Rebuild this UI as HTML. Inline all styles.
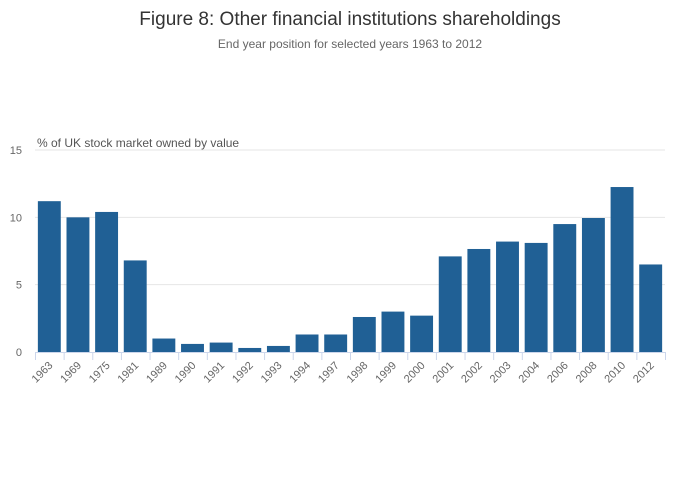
<!DOCTYPE html>
<html><head><meta charset="utf-8"><style>
body{margin:0;background:#fff;font-family:"Liberation Sans",sans-serif;}
svg{display:block}
</style></head><body>
<svg id="chart" width="700" height="502">
<text x="350" y="25" text-anchor="middle" font-size="19" fill="#333">Figure 8: Other financial institutions shareholdings</text>
<text x="350" y="48" text-anchor="middle" font-size="12" fill="#666">End year position for selected years 1963 to 2012</text>
<text x="37" y="147" font-size="12" fill="#555">% of UK stock market owned by value</text>
<g id="grid"></g><g id="bars"></g><g id="xticks"></g>
</svg>
<script>
const categories=["1963","1969","1975","1981","1989","1990","1991","1992","1993","1994","1997","1998","1999","2000","2001","2002","2003","2004","2006","2008","2010","2012"];
const values=[11.2,10.0,10.4,6.8,1.0,0.6,0.7,0.3,0.45,1.3,1.3,2.6,3.0,2.7,7.1,7.65,8.2,8.1,9.5,9.95,12.25,6.5];
const yTicks=[0,5,10,15];
const NS="http://www.w3.org/2000/svg";
const x0=35,x1=665,yb=352,yt=150,ymax=15;
const y=v=>yb-(v/ymax)*(yb-yt);
const slot=(x1-x0)/categories.length;
const xb=i=>x0+i*slot;
function mk(t,a,p){const e=document.createElementNS(NS,t);for(const k in a)e.setAttribute(k,a[k]);p.appendChild(e);return e;}
const grid=document.getElementById('grid'),bars=document.getElementById('bars'),xt=document.getElementById('xticks');
yTicks.forEach(v=>{
 if(v>0){const l=mk('line',{x1:x0,x2:x1,y1:y(v),y2:y(v),stroke:'#e6e6e6'},grid);
 
 }
 const t=mk('text',{x:22,y:y(v)+4,'text-anchor':'end','font-size':11,fill:'#666'},grid);
 t.textContent=v;
 
 
});
const ax=mk('line',{x1:x0,x2:x1,y1:yb+0.5,y2:yb+0.5,stroke:'#ccd6eb'},grid);


categories.forEach((c,i)=>{
 const w=slot*0.8;
 const r=mk('rect',{x:xb(i)+slot*0.1,y:y(values[i]),width:w,height:yb-y(values[i]),fill:'#206095'},bars);
 
 
 const tk=mk('line',{x1:xb(i)+0.5,x2:xb(i)+0.5,y1:yb,y2:yb+8,stroke:'#ccd6eb'},xt);
 
 
 const cx=xb(i)+slot/2+4,cy=yb+14;
 const t=mk('text',{x:cx,y:cy,'text-anchor':'end','font-size':11,fill:'#666',transform:`rotate(-45 ${cx} ${cy})`},xt);
 t.textContent=c;
 
 
});
const last=mk('line',{x1:x1+0.5,x2:x1+0.5,y1:yb,y2:yb+8,stroke:'#ccd6eb'},xt);


</script>
</body></html>
